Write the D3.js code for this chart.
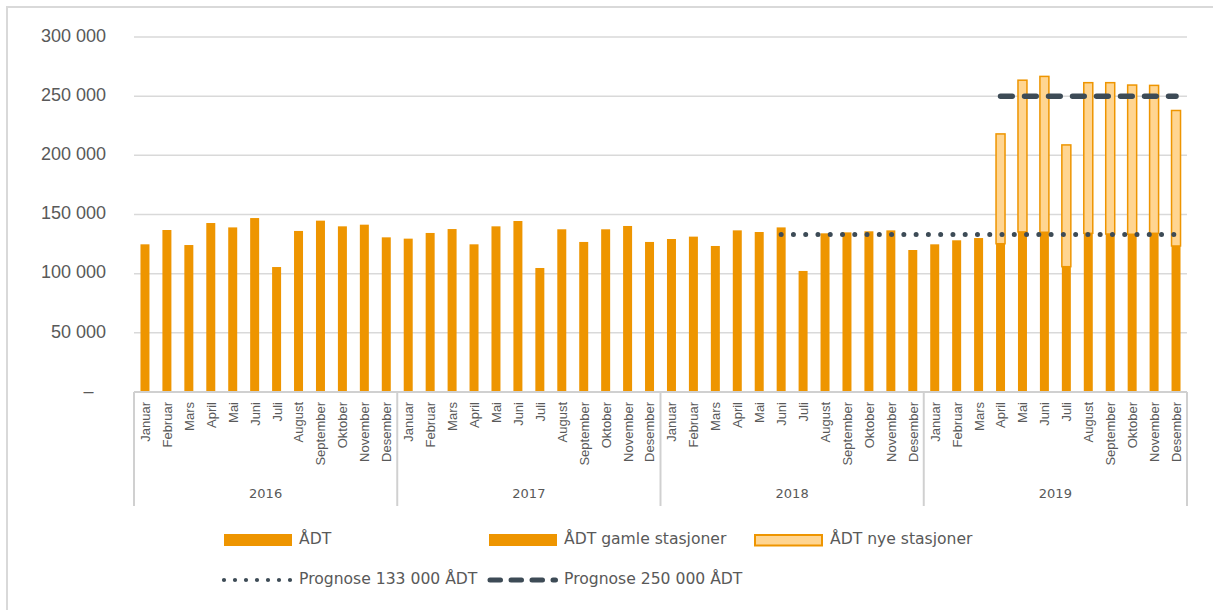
<!DOCTYPE html>
<html>
<head>
<meta charset="utf-8">
<script src="https://cdn.jsdelivr.net/npm/d3@7"></script>
<style>
  html, body { margin: 0; padding: 0; background: #ffffff; }
  svg { display: block; font-family: "DejaVu Sans", sans-serif; }
</style>
</head>
<body>
<svg id="chart" width="1213" height="610"></svg>
<script>
// Månedlig ÅDT 2016–2019
const months = ["Januar", "Februar", "Mars", "April", "Mai", "Juni", "Juli", "August", "September", "Oktober", "November", "Desember"];
const years = ["2016", "2017", "2018", "2019"];
const yTicks = [0, 50000, 100000, 150000, 200000, 250000, 300000];

// ÅDT (alle stasjoner samlet), jan 2016 – mar 2019
const adt = [
  124800, 136900, 124200, 142800, 139100, 147000, 105600, 136100, 144800, 140000, 141400, 130700,
  129600, 134400, 137700, 124800, 140000, 144500, 104800, 137500, 126800, 137500, 140300, 126800,
  129300, 131300, 123400, 136600, 135200, 139100, 102300, 134100, 134900, 135800, 136600, 120000,
  124800, 128200, 130100, null, null, null, null, null, null, null, null, null
];
// ÅDT gamle stasjoner, apr – des 2019
const adtGamle = [
  null, null, null, null, null, null, null, null, null, null, null, null,
  null, null, null, null, null, null, null, null, null, null, null, null,
  null, null, null, null, null, null, null, null, null, null, null, null,
  null, null, null, 125300, 135300, 135000, 105900, 134100, 133500, 133300, 134100, 123400
];
// ÅDT nye stasjoner (tillegg oppå gamle), apr – des 2019
const adtNye = [
  null, null, null, null, null, null, null, null, null, null, null, null,
  null, null, null, null, null, null, null, null, null, null, null, null,
  null, null, null, null, null, null, null, null, null, null, null, null,
  null, null, null, 92800, 128200, 131700, 102900, 127300, 127900, 126100, 125000, 114500
];
const prognose133 = [
  null, null, null, null, null, null, null, null, null, null, null, null,
  null, null, null, null, null, null, null, null, null, null, null, null,
  null, null, null, null, null, 133000, 133000, 133000, 133000, 133000, 133000, 133000,
  133000, 133000, 133000, 133000, 133000, 133000, 133000, 133000, 133000, 133000, 133000, 133000
];
const prognose250 = [
  null, null, null, null, null, null, null, null, null, null, null, null,
  null, null, null, null, null, null, null, null, null, null, null, null,
  null, null, null, null, null, null, null, null, null, null, null, null,
  null, null, null, 250000, 250000, 250000, 250000, 250000, 250000, 250000, 250000, 250000
];

const ORANGE = "#ee9500";
const LIGHT = "#ffd591";
const SLATE = "#3d4b56";
const GRID = "#d9d9d9";
const TEXT = "#595959";

const svg = d3.select("#chart");
const W = 1213, H = 610;
const plot = { left: 134, right: 1187, top: 37, bottom: 392 };

// ytre ramme
svg.append("rect")
  .attr("x", 7).attr("y", 7).attr("width", W + 20).attr("height", H + 20)
  .attr("fill", "none").attr("stroke", GRID).attr("stroke-width", 2);

const idx = d3.range(adt.length);
const x = d3.scaleBand()
  .domain(idx)
  .range([plot.left, plot.right])
  .paddingInner(0.59)
  .paddingOuter(0.295);

const y = d3.scaleLinear()
  .domain([0, 300000])
  .range([plot.bottom, plot.top]);

const loc = d3.formatLocale({ decimal: ",", thousands: " ", grouping: [3], currency: ["", ""] });
const fmt = loc.format(",");

// rutenett
svg.append("g")
  .selectAll("line")
  .data(yTicks.filter(v => v > 0))
  .join("line")
  .attr("x1", plot.left).attr("x2", plot.right)
  .attr("y1", d => y(d)).attr("y2", d => y(d))
  .attr("stroke", GRID).attr("stroke-width", 1.5);

// y-akse
const yAxis = svg.append("g")
  .attr("transform", `translate(${plot.left},0)`)
  .call(d3.axisLeft(y).tickValues(yTicks).tickSize(0).tickPadding(28)
    .tickFormat(d => d === 0 ? "–" : fmt(d)));
yAxis.select(".domain").remove();
yAxis.selectAll("text")
  .attr("fill", TEXT)
  .style("font-size", "18px")
  .attr("dy", "4.3px")
  .attr("dx", d => d === 0 ? -12.5 : 0);

// søyler: ÅDT
const bars = svg.append("g");
bars.selectAll("rect.adt")
  .data(idx.filter(i => adt[i] != null))
  .join("rect")
  .attr("class", "adt")
  .attr("x", i => x(i)).attr("width", x.bandwidth())
  .attr("y", i => y(adt[i])).attr("height", i => y(0) - y(adt[i]))
  .attr("fill", ORANGE);

// søyler: gamle stasjoner
bars.selectAll("rect.gamle")
  .data(idx.filter(i => adtGamle[i] != null))
  .join("rect")
  .attr("class", "gamle")
  .attr("x", i => x(i)).attr("width", x.bandwidth())
  .attr("y", i => y(adtGamle[i])).attr("height", i => y(0) - y(adtGamle[i]))
  .attr("fill", ORANGE);

// søyler: nye stasjoner, stablet oppå gamle
bars.selectAll("rect.nye")
  .data(idx.filter(i => adtNye[i] != null))
  .join("rect")
  .attr("class", "nye")
  .attr("x", i => x(i)).attr("width", x.bandwidth())
  .attr("y", i => y(adtGamle[i] + adtNye[i]))
  .attr("height", i => y(adtGamle[i]) - y(adtGamle[i] + adtNye[i]))
  .attr("fill", LIGHT).attr("stroke", ORANGE).attr("stroke-width", 1.5);

// prognoselinjer
const cx = i => x(i) + x.bandwidth() / 2;
const line = arr => d3.line().defined(i => arr[i] != null).x(cx).y(i => y(arr[i]))(idx);

svg.append("path")
  .attr("d", line(prognose133))
  .attr("fill", "none").attr("stroke", SLATE)
  .attr("stroke-width", 5).attr("stroke-linecap", "round")
  .attr("stroke-dasharray", "0 12.27");

svg.append("path")
  .attr("d", line(prognose250))
  .attr("fill", "none").attr("stroke", SLATE)
  .attr("stroke-width", 5.5).attr("stroke-linecap", "round")
  .attr("stroke-dasharray", "11.7 12.3");

// kategoriakse: grunnlinje, skillelinjer, måneder og år
const axisColor = "#d0d0d0";
svg.append("line")
  .attr("x1", plot.left).attr("x2", plot.right)
  .attr("y1", y(0)).attr("y2", y(0))
  .attr("stroke", axisColor).attr("stroke-width", 2);

const blockEdge = k => x.range()[0] + k * months.length * x.step();
svg.append("g")
  .selectAll("line")
  .data(d3.range(years.length + 1))
  .join("line")
  .attr("x1", blockEdge).attr("x2", blockEdge)
  .attr("y1", y(0)).attr("y2", 506)
  .attr("stroke", axisColor).attr("stroke-width", 2);

const xAxis = svg.append("g")
  .attr("transform", `translate(0,${y(0)})`)
  .call(d3.axisBottom(x).tickSize(0).tickFormat(i => months[i % 12]));
xAxis.select(".domain").remove();
xAxis.selectAll("text")
  .attr("fill", TEXT)
  .style("font-size", "13px")
  .attr("transform", "rotate(-90)")
  .attr("x", -10).attr("y", 0).attr("dy", "0.38em")
  .style("text-anchor", "end");

svg.append("g")
  .selectAll("text")
  .data(years)
  .join("text")
  .attr("x", (d, k) => (blockEdge(k) + blockEdge(k + 1)) / 2)
  .attr("y", 498.3)
  .attr("text-anchor", "middle")
  .attr("fill", TEXT)
  .style("font-size", "13px")
  .text(d => d);

// tegnforklaring
const lg = svg.append("g").style("font-size", "15.6px").attr("fill", TEXT);
lg.append("rect").attr("x", 224).attr("y", 534).attr("width", 68).attr("height", 12).attr("fill", ORANGE);
lg.append("text").attr("x", 299).attr("y", 543.5).text("ÅDT");
lg.append("rect").attr("x", 489).attr("y", 534).attr("width", 68).attr("height", 12).attr("fill", ORANGE);
lg.append("text").attr("x", 564).attr("y", 543.5).text("ÅDT gamle stasjoner");
lg.append("rect").attr("x", 755).attr("y", 535).attr("width", 67).attr("height", 10.5)
  .attr("fill", LIGHT).attr("stroke", ORANGE).attr("stroke-width", 2);
lg.append("text").attr("x", 830).attr("y", 543.5).text("ÅDT nye stasjoner");

lg.append("line").attr("x1", 224).attr("x2", 290.5).attr("y1", 580).attr("y2", 580)
  .attr("stroke", SLATE).attr("stroke-width", 4.2).attr("stroke-linecap", "round")
  .attr("stroke-dasharray", "0 11");
lg.append("text").attr("x", 299).attr("y", 583.5).text("Prognose 133 000 ÅDT");
lg.append("line").attr("x1", 490).attr("x2", 555.5).attr("y1", 580).attr("y2", 580)
  .attr("stroke", SLATE).attr("stroke-width", 5).attr("stroke-linecap", "round")
  .attr("stroke-dasharray", "10.5 10.5");
lg.append("text").attr("x", 564).attr("y", 583.5).text("Prognose 250 000 ÅDT");
</script>
</body>
</html>
